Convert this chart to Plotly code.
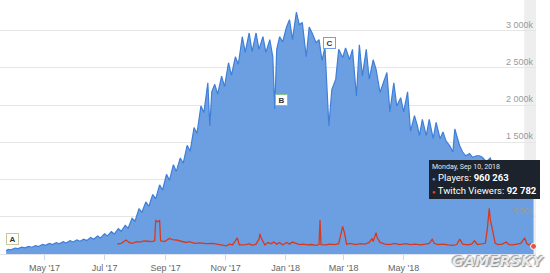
import plotly.graph_objects as go

# ---------------- data ----------------
player_dates = [
    "2017-03-23", "2017-03-25", "2017-03-28", "2017-04-01", "2017-04-04", "2017-04-08", "2017-04-11",
    "2017-04-15", "2017-04-18", "2017-04-22", "2017-04-25", "2017-04-29", "2017-05-02", "2017-05-06",
    "2017-05-09", "2017-05-13", "2017-05-16", "2017-05-20", "2017-05-23", "2017-05-27", "2017-05-30",
    "2017-06-03", "2017-06-06", "2017-06-10", "2017-06-13", "2017-06-17", "2017-06-20", "2017-06-24",
    "2017-06-27", "2017-07-01", "2017-07-04", "2017-07-08", "2017-07-11", "2017-07-15", "2017-07-18",
    "2017-07-22", "2017-07-25", "2017-07-29", "2017-08-01", "2017-08-05", "2017-08-08", "2017-08-12",
    "2017-08-15", "2017-08-19", "2017-08-22", "2017-08-26", "2017-08-29", "2017-09-02", "2017-09-05",
    "2017-09-09", "2017-09-12", "2017-09-16", "2017-09-19", "2017-09-23", "2017-09-26", "2017-09-30",
    "2017-10-03", "2017-10-07", "2017-10-10", "2017-10-14", "2017-10-16", "2017-10-18", "2017-10-21",
    "2017-10-24", "2017-10-28", "2017-10-31", "2017-11-04", "2017-11-07", "2017-11-11", "2017-11-14",
    "2017-11-18", "2017-11-21", "2017-11-25", "2017-11-28", "2017-12-02", "2017-12-05", "2017-12-09",
    "2017-12-12", "2017-12-16", "2017-12-19", "2017-12-21", "2017-12-23", "2017-12-26", "2017-12-29",
    "2018-01-02", "2018-01-05", "2018-01-08", "2018-01-12", "2018-01-15", "2018-01-18", "2018-01-22",
    "2018-01-25", "2018-01-28", "2018-02-01", "2018-02-04", "2018-02-07", "2018-02-10", "2018-02-14",
    "2018-02-17", "2018-02-21", "2018-02-24", "2018-02-28", "2018-03-03", "2018-03-07", "2018-03-10",
    "2018-03-14", "2018-03-17", "2018-03-20", "2018-03-24", "2018-03-27", "2018-03-31", "2018-04-03",
    "2018-04-07", "2018-04-10", "2018-04-14", "2018-04-17", "2018-04-21", "2018-04-24", "2018-04-28",
    "2018-05-01", "2018-05-05", "2018-05-08", "2018-05-12", "2018-05-15", "2018-05-17", "2018-05-20",
    "2018-05-24", "2018-05-27", "2018-05-31", "2018-06-03", "2018-06-07", "2018-06-10", "2018-06-13",
    "2018-06-17", "2018-06-20", "2018-06-22", "2018-06-27", "2018-06-30", "2018-07-03", "2018-07-07",
    "2018-07-10", "2018-07-14", "2018-07-17", "2018-07-20", "2018-07-24", "2018-07-28", "2018-07-31",
    "2018-08-04", "2018-08-07", "2018-08-11", "2018-08-14", "2018-08-18", "2018-08-21", "2018-08-25",
    "2018-08-28", "2018-09-01", "2018-09-04", "2018-09-08", "2018-09-10",
]
players_k = [
    45, 62, 56, 80, 72, 92, 83,
    101, 91, 113, 101, 130, 116, 141,
    126, 151, 136, 165, 148, 180, 162,
    190, 172, 200, 182, 222, 198, 242,
    216, 272, 242, 300, 268, 340, 305,
    385, 348, 480, 440, 610, 560, 700,
    640, 800, 740, 930, 860, 1070, 990,
    1200, 1110, 1290, 1220, 1460, 1380, 1700,
    1620, 1990, 1900, 2300, 1720, 2180, 2280,
    2150, 2390, 2250, 2570, 2400, 2650, 2550,
    2920, 2710, 2970, 2720, 2970, 2750, 2920,
    2710, 2880, 2650, 1950, 2750, 2920, 2850,
    3050, 3150, 2880, 3250, 3080, 3110, 2650,
    3050, 2970, 2840, 2880, 2600, 2780, 1720,
    2210, 2350, 2750, 2640, 2770, 2610, 2750,
    2120, 2810, 2390, 2750, 2350, 2610, 2480,
    2170, 2300, 2440, 1910, 2300, 1990, 2100,
    1910, 2180, 1650, 1860, 1720, 1590, 1810,
    1590, 1810, 1550, 1770, 1550, 1640, 1520,
    1450, 1370, 1680, 1450, 1370, 1320, 1350,
    1300, 1320, 1320, 1300, 1240, 1290, 1190,
    1260, 1160, 1250, 1150, 1230, 1120, 1200,
    1100, 1160, 1060, 1150, 960.263,
]

twitch_dates = [
    "2017-07-14", "2017-07-18", "2017-07-23", "2017-07-26", "2017-07-29", "2017-08-03", "2017-08-06",
    "2017-08-10", "2017-08-14", "2017-08-18", "2017-08-21", "2017-08-22", "2017-08-24", "2017-08-26",
    "2017-08-27", "2017-08-31", "2017-09-05", "2017-09-08", "2017-09-12", "2017-09-15", "2017-09-22",
    "2017-09-25", "2017-10-01", "2017-10-06", "2017-10-12", "2017-10-19", "2017-10-24", "2017-10-29",
    "2017-11-02", "2017-11-05", "2017-11-08", "2017-11-13", "2017-11-15", "2017-11-22", "2017-11-25",
    "2017-11-28", "2017-12-02", "2017-12-05", "2017-12-06", "2017-12-07", "2017-12-09", "2017-12-11",
    "2017-12-14", "2017-12-17", "2017-12-20", "2017-12-23", "2017-12-26", "2017-12-29", "2018-01-02",
    "2018-01-05", "2018-01-08", "2018-01-12", "2018-01-15", "2018-01-19", "2018-01-23", "2018-01-27",
    "2018-02-01", "2018-02-04", "2018-02-05", "2018-02-06", "2018-02-11", "2018-02-15", "2018-02-20",
    "2018-02-24", "2018-02-26", "2018-02-28", "2018-03-02", "2018-03-04", "2018-03-08", "2018-03-13",
    "2018-03-18", "2018-03-23", "2018-03-27", "2018-03-30", "2018-03-31", "2018-04-03", "2018-04-04",
    "2018-04-07", "2018-04-12", "2018-04-17", "2018-04-22", "2018-04-27", "2018-05-03", "2018-05-08",
    "2018-05-13", "2018-05-18", "2018-05-23", "2018-05-27", "2018-05-30", "2018-06-01", "2018-06-05",
    "2018-06-10", "2018-06-15", "2018-06-20", "2018-06-24", "2018-06-27", "2018-06-30", "2018-07-05",
    "2018-07-09", "2018-07-12", "2018-07-15", "2018-07-19", "2018-07-23", "2018-07-25", "2018-07-27",
    "2018-07-28", "2018-07-29", "2018-07-31", "2018-08-02", "2018-08-05", "2018-08-09", "2018-08-13",
    "2018-08-16", "2018-08-20", "2018-08-24", "2018-08-28", "2018-09-01", "2018-09-03", "2018-09-05",
    "2018-09-07", "2018-09-10",
]
twitch_k = [
    120, 130, 170, 140, 130, 150, 145,
    160, 155, 150, 160, 410, 390, 410,
    160, 150, 190, 175, 170, 160, 140,
    150, 130, 135, 125, 130, 120, 110,
    100, 120, 110, 195, 110, 115, 125,
    105, 120, 180, 245, 200, 160, 110,
    140, 125, 145, 120, 140, 110, 140,
    120, 145, 130, 115, 120, 110, 115,
    105, 115, 413, 115, 110, 120, 115,
    125, 250, 335, 250, 120, 130, 115,
    125, 120, 140, 190, 150, 260, 200,
    140, 120, 115, 130, 115, 125, 115,
    120, 110, 120, 130, 180, 130, 115,
    120, 110, 105, 115, 180, 120, 110,
    120, 160, 115, 120, 130, 300, 554,
    420, 370, 250, 130, 115, 120, 145,
    115, 110, 120, 130, 195, 130, 110,
    125, 92.782,
]

x_tick_dates = ["2017-05-01", "2017-07-01", "2017-09-01", "2017-11-01",
                "2018-01-01", "2018-03-01", "2018-05-01"]
x_tick_text = ["May '17", "Jul '17", "Sep '17", "Nov '17", "Jan '18", "Mar '18", "May '18"]
y_tick_vals_k = [500, 1000, 1500, 2000, 2500, 3000]
# the "1 000k" label is hidden behind the tooltip in the reference
y_tick_text = ["500k", "", "1 500k", "2 000k", "2 500k", "3 000k"]

tooltip_date = "Monday, Sep 10, 2018"
tooltip_players = "960 263"
tooltip_twitch = "92 782"

# ---------------- figure ----------------
W, H = 550, 273
ML, MR, MT, MB = 0, 14, 0, 17
PW, PH = W - ML - MR, H - MT - MB

def px(xp):
    return (xp - ML) / PW

def py(yp):
    return (H - MB - yp) / PH

BLUE_FILL = "#6c9fe2"
BLUE_LINE = "#3f7fd8"
RED = "#d8391c"
FONT = "Liberation Sans, Arial, sans-serif"
NARROW = "Liberation Sans Narrow, Roboto, Liberation Sans, sans-serif"

players = [v * 1000 for v in players_k]
twitch = [v * 1000 for v in twitch_k]

fig = go.Figure()
fig.add_trace(go.Scatter(
    x=player_dates, y=players, mode="lines", fill="tozeroy",
    fillcolor=BLUE_FILL, line=dict(color=BLUE_LINE, width=1.2),
    name="Players", hoverinfo="skip"))
fig.add_trace(go.Scatter(
    x=twitch_dates, y=twitch, mode="lines", yaxis="y2",
    line=dict(color=RED, width=1.3), name="Twitch Viewers", hoverinfo="skip"))
# hovered points
fig.add_trace(go.Scatter(
    x=[player_dates[-1]], y=[players[-1]], mode="markers",
    marker=dict(color="#7fb0ee", size=6, line=dict(color="white", width=1)),
    hoverinfo="skip"))
fig.add_trace(go.Scatter(
    x=[twitch_dates[-1]], y=[twitch[-1]], mode="markers", yaxis="y2",
    marker=dict(color="#e8553c", size=6, line=dict(color="white", width=1)),
    hoverinfo="skip"))

annotations = []
# flag markers
for label, cx, cy, border in [("A", 12, 240.5, "#c9c79a"), ("B", 281, 101, "#8cc08c"),
                              ("C", 330, 43, "#6f9fe6")]:
    annotations.append(dict(
        xref="paper", yref="paper", x=px(cx), y=py(cy), xanchor="center", yanchor="middle",
        text="<b>%s</b>" % label, showarrow=False, font=dict(family=FONT, size=8, color="#333"),
        bgcolor="white", bordercolor=border, borderwidth=1, borderpad=1, width=9, height=8))

# tooltip
tip = ("<span style='font-size:7px;color:#e6e6e6'>%s</span><br>"
       "<span style='color:#6aa5ee;font-size:6px'>\u25cf</span> Players: <b>%s</b><br>"
       "<span style='color:#e0452a;font-size:6px'>\u25cf</span> Twitch Viewers: <b>%s</b>"
       % (tooltip_date, tooltip_players, tooltip_twitch))
annotations.append(dict(
    xref="paper", yref="paper", x=px(429), y=py(161), xanchor="left", yanchor="top",
    text=tip, showarrow=False, align="left", valign="middle",
    font=dict(family=NARROW, size=9.5, color="white"),
    bgcolor="#1c232d", bordercolor="#1c232d", borderwidth=1, borderpad=2))

# watermark
annotations.append(dict(
    xref="paper", yref="paper", x=px(498), y=py(263), xanchor="center", yanchor="middle",
    text="GAMERSKY", showarrow=False,
    font=dict(family="DejaVu Sans, sans-serif", size=14.5, color="rgba(240,240,240,0.95)",
              weight="bold", style="italic",
              shadow="1px 1px 1px #8a8a8a, -1px -1px 1px #9a9a9a")))

fig.update_layout(
    width=W, height=H, margin=dict(l=ML, r=MR, t=MT, b=MB),
    paper_bgcolor="white", plot_bgcolor="white", showlegend=False,
    font=dict(family=FONT),
    xaxis=dict(
        type="date", range=["2017-03-16 19:00", "2018-09-12 12:00"],
        tickvals=x_tick_dates, ticktext=x_tick_text, showgrid=False,
        ticks="outside", ticklen=5, tickcolor="#ccd6eb",
        showline=True, linecolor="#dfe4ee", linewidth=1,
        tickfont=dict(size=9, color="#666666"), zeroline=False, fixedrange=True),
    yaxis=dict(
        range=[0, 3413333], side="right", tickvals=[v * 1000 for v in y_tick_vals_k],
        ticktext=y_tick_text, ticklabelposition="inside top", showgrid=True,
        gridcolor="#e6e6e6", gridwidth=1, zeroline=False, showline=False,
        tickfont=dict(size=9, color="#9a9a9a"), ticks="", fixedrange=True),
    yaxis2=dict(range=[0, 3084800], overlaying="y", visible=False, fixedrange=True),
    shapes=[dict(type="rect", xref="x", yref="paper", x0="2018-08-31 12:00", x1="2018-09-12 12:00",
                 y0=0, y1=1, fillcolor="#eeeeee", line=dict(width=0), layer="below")],
    annotations=annotations,
)

fig.write_html("out.html")
